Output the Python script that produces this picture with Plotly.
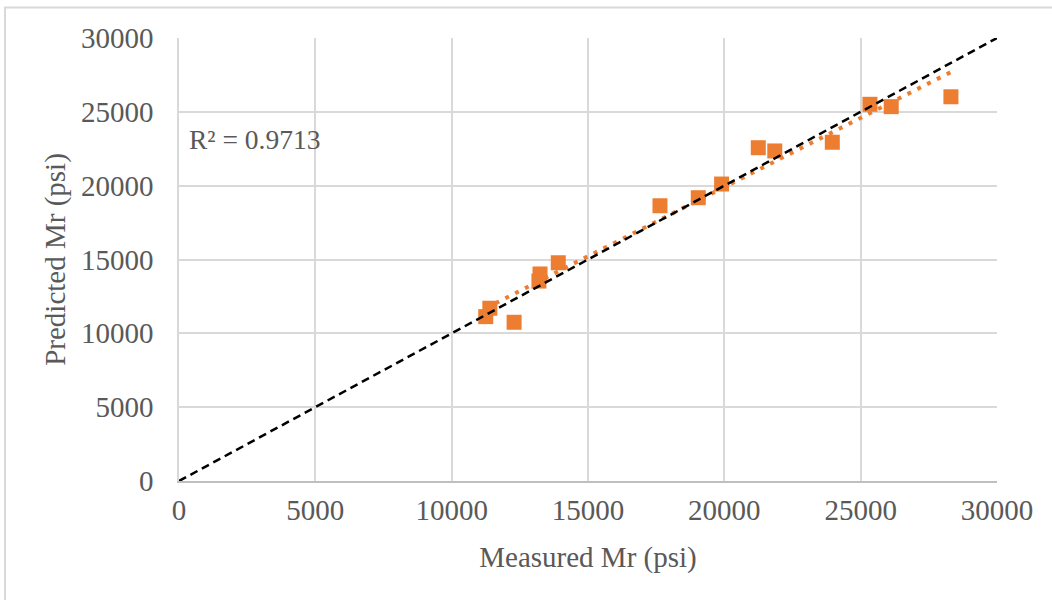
import numpy as np
import plotly.graph_objects as go

# Measured vs predicted resilient modulus (psi)
measured = [11250, 11400, 12290, 13200, 13240, 13910, 17640, 19045, 19900,
            21245, 21850, 23960, 25340, 26120, 28310]
predicted = [11130, 11700, 10750, 13540, 14020, 14780, 18640, 19185, 20110,
             22570, 22350, 22940, 25510, 25350, 26020]
line_of_equality = [0, 30000]
r2_label = "R² = 0.9713"
tick_vals = [0, 5000, 10000, 15000, 20000, 25000, 30000]
x_title = "Measured Mr (psi)"
y_title = "Predicted Mr (psi)"

ORANGE = "#ED7D31"
GRID = "#D9D9D9"
TEXT = "#595959"
FONT = "Liberation Serif, Times New Roman, serif"

# Linear trendline over the measured range
slope, intercept = np.polyfit(measured, predicted, 1)
trend_x = [min(measured), max(measured)]
trend_y = [slope * v + intercept for v in trend_x]

fig = go.Figure()
fig.add_trace(go.Scatter(
    x=measured, y=predicted, mode="markers",
    marker=dict(symbol="square", size=15, color=ORANGE),
    showlegend=False, hoverinfo="x+y",
))
fig.add_trace(go.Scatter(
    x=trend_x, y=trend_y, mode="lines",
    line=dict(color=ORANGE, width=4, dash="4px,7px"),
    showlegend=False, hoverinfo="skip",
))
fig.add_trace(go.Scatter(
    x=line_of_equality, y=line_of_equality, mode="lines",
    line=dict(color="black", width=2.5, dash="8px,5px"),
    showlegend=False, hoverinfo="skip",
))

W, H = 1052, 600
ML, MR, MT, MB = 179, 55, 38, 119
pw, ph = W - ML - MR, H - MT - MB

def px_x(p):
    return (p - ML) / pw

def px_y(p):
    return (H - MB - p) / ph

# Light frame around the chart area
fig.add_shape(type="rect", xref="paper", yref="paper",
              x0=px_x(5), y0=px_y(7.5), x1=px_x(1070), y1=px_y(620),
              line=dict(color=GRID, width=2), fillcolor="rgba(0,0,0,0)",
              layer="below")

fig.add_annotation(text=r2_label, xref="paper", yref="paper",
                   x=px_x(187), y=px_y(139), xanchor="left", yanchor="middle",
                   showarrow=False, font=dict(family=FONT, size=27.5, color=TEXT))

axis_common = dict(
    range=[0, 30000], tickvals=tick_vals, ticktext=[str(v) for v in tick_vals],
    showgrid=True, gridcolor=GRID, gridwidth=1.5, zeroline=False,
    showline=True, linewidth=1.5,
    tickfont=dict(family=FONT, size=29, color=TEXT),
    ticks="", fixedrange=True,
)

fig.update_layout(
    width=W, height=H,
    margin=dict(l=ML, r=MR, t=MT, b=MB),
    paper_bgcolor="white", plot_bgcolor="white",
    xaxis=dict(**axis_common, linecolor="#BFBFBF", ticklabelstandoff=2,
               title=dict(text=x_title, standoff=22,
                          font=dict(family=FONT, size=29, color=TEXT))),
    yaxis=dict(**axis_common, linecolor=GRID, ticklabelstandoff=18,
               title=dict(text=y_title, standoff=7,
                          font=dict(family=FONT, size=29, color=TEXT))),
)

fig.write_html("out.html")
